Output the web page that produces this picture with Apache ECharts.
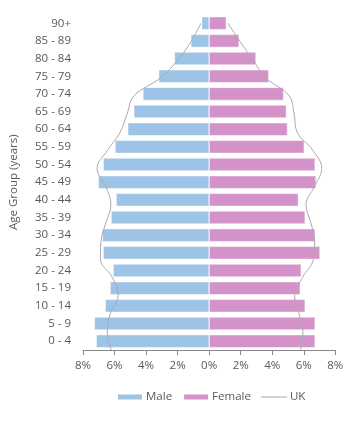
<!DOCTYPE html>
<html>
<head>
<meta charset="utf-8">
<script src="https://cdn.jsdelivr.net/npm/echarts@6/dist/echarts.min.js"></script>
<style>html,body{margin:0;padding:0;background:#fff}#c{width:358px;height:423px}</style>
</head>
<body>
<div id="c"></div>
<script>
const categories = ['0 - 4','5 - 9','10 - 14','15 - 19','20 - 24','25 - 29','30 - 34','35 - 39','40 - 44','45 - 49','50 - 54','55 - 59','60 - 64','65 - 69','70 - 74','75 - 79','80 - 84','85 - 89','90+'];
const maleValues = [7.16, 7.28, 6.59, 6.28, 6.09, 6.72, 6.78, 6.22, 5.90, 7.03, 6.72, 5.97, 5.16, 4.78, 4.20, 3.20, 2.20, 1.16, 0.47];
const femaleValues = [6.72, 6.72, 6.09, 5.78, 5.84, 7.03, 6.72, 6.09, 5.66, 6.78, 6.72, 6.03, 4.97, 4.90, 4.72, 3.78, 2.97, 1.90, 1.09];
const ukMale = [6.21, 6.46, 6.27, 5.77, 6.14, 6.89, 6.86, 6.55, 6.23, 6.55, 7.11, 6.45, 5.64, 5.21, 4.77, 3.08, 1.96, 1.14, 0.52];
const ukFemale = [5.79, 5.95, 5.70, 5.42, 5.92, 6.61, 6.69, 6.45, 6.14, 6.67, 7.14, 6.58, 5.58, 5.39, 5.07, 3.60, 2.76, 1.96, 1.20];
const xTicks = [-8, -6, -4, -2, 0, 2, 4, 6, 8];

const FONT = 'Open Sans';
const TXT = '#595959';
const LINE = '#ABABAB';
const chart = echarts.init(document.getElementById('c'), null, {renderer: 'canvas'});
chart.setOption({
  animation: false,
  textStyle: {fontFamily: FONT},
  grid: {left: 79.3, right: 22.7, top: 14.4, bottom: 73, containLabel: false},
  legend: {
    top: 386, left: 111,
    itemWidth: 26, itemHeight: 7, itemGap: 10,
    textStyle: {color: TXT, fontSize: 11.5, fontFamily: FONT, padding: [0, 0, 0, -2]},
    data: [
      {name: 'Male', icon: 'rect'},
      {name: 'Female', icon: 'rect'},
      {name: 'UK', icon: 'path://M0,0H26V1H0Z', itemStyle: {color: LINE}}
    ]
  },
  xAxis: {
    type: 'value', min: xTicks[0], max: xTicks[xTicks.length - 1], interval: 2,
    axisLine: {show: true, onZero: false, lineStyle: {color: '#888', width: 1}},
    axisTick: {show: true, length: 5, lineStyle: {color: '#888'}},
    splitLine: {show: false},
    axisLabel: {color: TXT, fontSize: 11.5, margin: 10, formatter: v => Math.abs(v) + '%'}
  },
  yAxis: [{
    type: 'category', data: categories,
    axisLine: {show: false}, axisTick: {show: false},
    axisLabel: {color: TXT, fontSize: 11.5, margin: 12},
    name: 'Age Group (years)', nameLocation: 'middle', nameGap: 63, nameRotate: 90,
    nameTextStyle: {color: TXT, fontSize: 11.5, fontFamily: FONT}
  }, {
    type: 'value', min: 0, max: 18.49, show: false
  }],
  series: [{
    name: 'Male', type: 'bar', stack: 'pop', barWidth: 13,
    itemStyle: {color: '#9DC3E6', borderColor: '#fff', borderWidth: 0.5},
    data: maleValues.map(v => -v)
  }, {
    name: 'Female', type: 'bar', stack: 'pop', barWidth: 13,
    itemStyle: {color: '#D393C8', borderColor: '#fff', borderWidth: 0.5},
    data: femaleValues
  }, {
    name: 'UK', type: 'line', yAxisIndex: 1, smooth: 0.4, symbol: 'none', showSymbol: false, z: 5,
    lineStyle: {color: LINE, width: 1},
    itemStyle: {color: LINE},
    data: ukMale.map((v, i) => [-v, i])
  }, {
    name: 'UK', type: 'line', yAxisIndex: 1, smooth: 0.4, symbol: 'none', showSymbol: false, z: 5,
    lineStyle: {color: LINE, width: 1},
    itemStyle: {color: LINE},
    data: ukFemale.map((v, i) => [v, i])
  }]
});
</script>
</body>
</html>
